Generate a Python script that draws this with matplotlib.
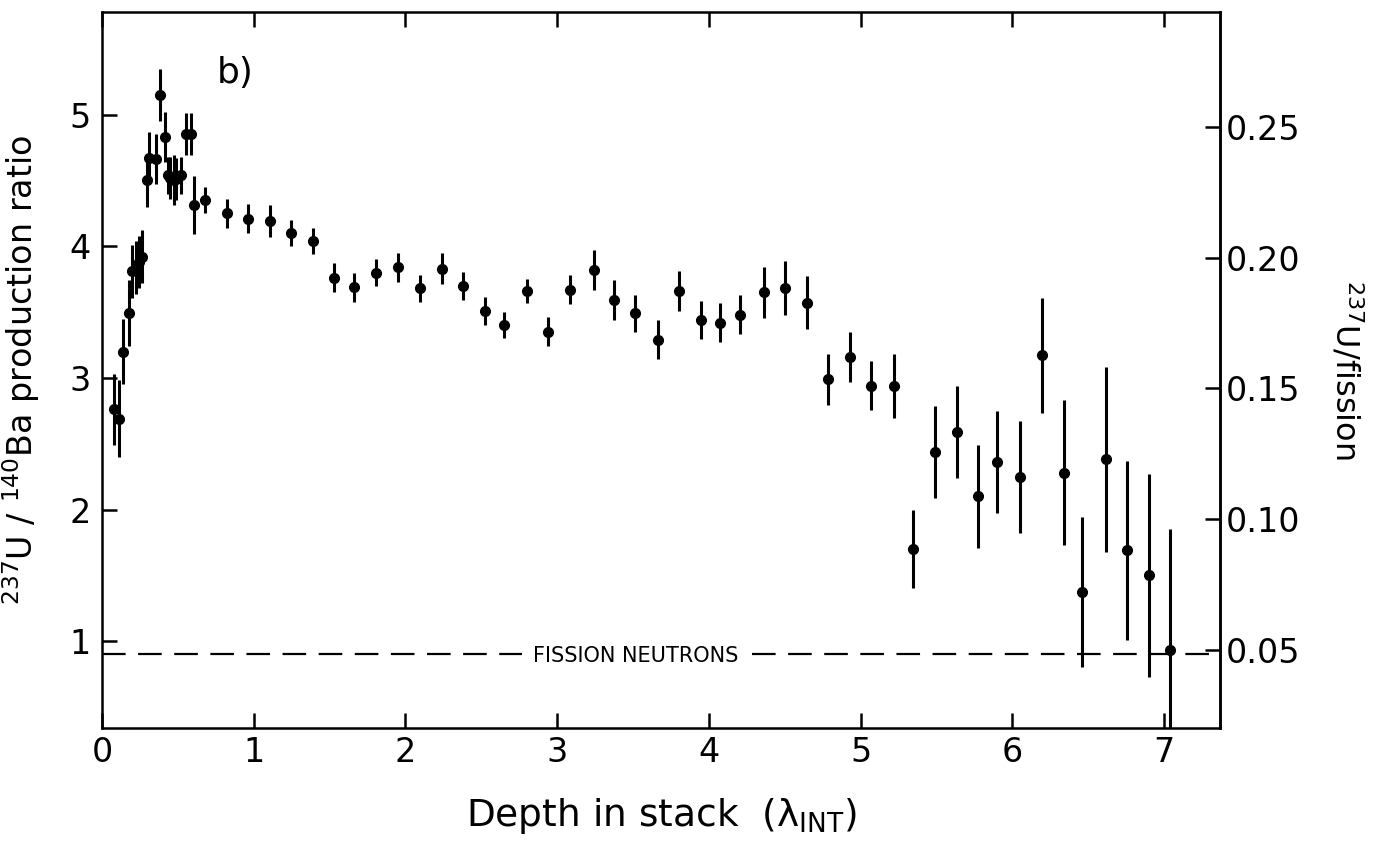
"""
237U / 140Ba production ratio vs depth in stack (panel b)
"""

import numpy as np
import matplotlib
matplotlib.use('Agg')
import matplotlib.pyplot as plt

plt.rcParams['font.family'] = ['DejaVu Sans']
plt.rcParams['lines.scale_dashes'] = False

# depth in stack (lambda_INT)
depth = [0.077, 0.114, 0.138, 0.176, 0.197, 0.226, 0.245, 0.263, 0.296, 0.307,
         0.355, 0.384, 0.414, 0.434, 0.449, 0.472, 0.489, 0.522, 0.555, 0.588,
         0.610, 0.682, 0.822, 0.961, 1.105, 1.248, 1.388, 1.528, 1.664, 1.809,
         1.949, 2.094, 2.241, 2.380, 2.524, 2.653, 2.803, 2.941, 3.088, 3.245,
         3.377, 3.515, 3.663, 3.801, 3.947, 4.074, 4.206, 4.366, 4.502, 4.649,
         4.783, 4.930, 5.068, 5.219, 5.347, 5.489, 5.636, 5.772, 5.899, 6.053,
         6.193, 6.344, 6.461, 6.620, 6.755, 6.903, 7.041]

# 237U / 140Ba production ratio
ratio = [2.76, 2.69, 3.20, 3.49, 3.81, 3.84, 3.88, 3.92, 4.50, 4.67,
         4.66, 5.15, 4.83, 4.54, 4.52, 4.50, 4.51, 4.54, 4.85, 4.85,
         4.31, 4.35, 4.25, 4.21, 4.19, 4.10, 4.04, 3.76, 3.69, 3.80,
         3.84, 3.68, 3.83, 3.70, 3.51, 3.40, 3.66, 3.35, 3.67, 3.82,
         3.59, 3.49, 3.29, 3.66, 3.44, 3.42, 3.48, 3.65, 3.68, 3.57,
         2.99, 3.16, 2.94, 2.94, 1.70, 2.44, 2.59, 2.10, 2.36, 2.25,
         3.17, 2.28, 1.37, 2.38, 1.69, 1.50, 0.93]

# symmetric errors
err = [0.27, 0.29, 0.25, 0.25, 0.20, 0.20, 0.20, 0.20, 0.20, 0.20,
       0.19, 0.20, 0.19, 0.14, 0.16, 0.19, 0.16, 0.14, 0.16, 0.16,
       0.22, 0.10, 0.11, 0.11, 0.12, 0.10, 0.10, 0.11, 0.11, 0.10,
       0.11, 0.10, 0.115, 0.105, 0.105, 0.10, 0.09, 0.11, 0.11, 0.15,
       0.15, 0.14, 0.15, 0.15, 0.145, 0.15, 0.15, 0.195, 0.205, 0.20,
       0.195, 0.19, 0.185, 0.245, 0.30, 0.35, 0.35, 0.39, 0.385, 0.425,
       0.44, 0.55, 0.57, 0.70, 0.68, 0.77, 0.92]

FISSION_LEVEL = 0.90

# right axis: 237U per fission, linear in the ratio
R_SLOPE = 0.05037
R_OFFSET = 0.00296


def to_fission(v):
    return R_SLOPE * v + R_OFFSET


def from_fission(v):
    return (v - R_OFFSET) / R_SLOPE


fig = plt.figure(figsize=(13.74, 8.5), dpi=100)
ax = fig.add_axes([0.0742, 0.1435, 0.8138, 0.8425])

ax.errorbar(depth, ratio, yerr=err, fmt='o', color='black', ms=7,
            elinewidth=2.2, capsize=0, zorder=3)

ax.axhline(FISSION_LEVEL, color='black', lw=1.6, dashes=(17, 9), zorder=1)
ax.text(0.477, 0.10, 'FISSION NEUTRONS', transform=ax.transAxes,
        ha='center', va='center', fontsize=15,
        bbox=dict(facecolor='white', edgecolor='none', pad=8), zorder=2)
ax.text(0.119, 0.915, 'b)', transform=ax.transAxes, ha='center', va='center',
        fontsize=26)

ax.set_xlim(0, 7.37)
ax.set_ylim(0.34, 5.78)
ax.set_xticks(np.arange(0, 8))
ax.set_yticks(np.arange(1, 6))

for s in ax.spines.values():
    s.set_linewidth(1.8)

ax.tick_params(axis='both', direction='in', length=11, width=1.8,
               labelsize=24, pad=8)
ax.tick_params(axis='x', top=True, pad=6)
ax.tick_params(axis='y', right=False)

ax.set_xlabel('Depth in stack  (λ$_{\\rm INT}$)', fontsize=27)
ax.xaxis.set_label_coords(0.5, -0.095)
ax.set_ylabel(r'$^{237}$U / $^{140}$Ba production ratio', fontsize=24)
ax.yaxis.set_label_coords(-0.054, 0.5)

sec = ax.secondary_yaxis('right', functions=(to_fission, from_fission))
sec.set_yticks([0.05, 0.10, 0.15, 0.20, 0.25])
sec.set_yticklabels(['0.05', '0.10', '0.15', '0.20', '0.25'])
sec.tick_params(direction='in', length=11, width=1.8, labelsize=24, pad=4)
sec.spines['right'].set_linewidth(1.8)
sec.set_ylabel(r'$^{237}$U/fission', fontsize=23, rotation=270, labelpad=46)

fig.savefig('out.png', dpi=100)
